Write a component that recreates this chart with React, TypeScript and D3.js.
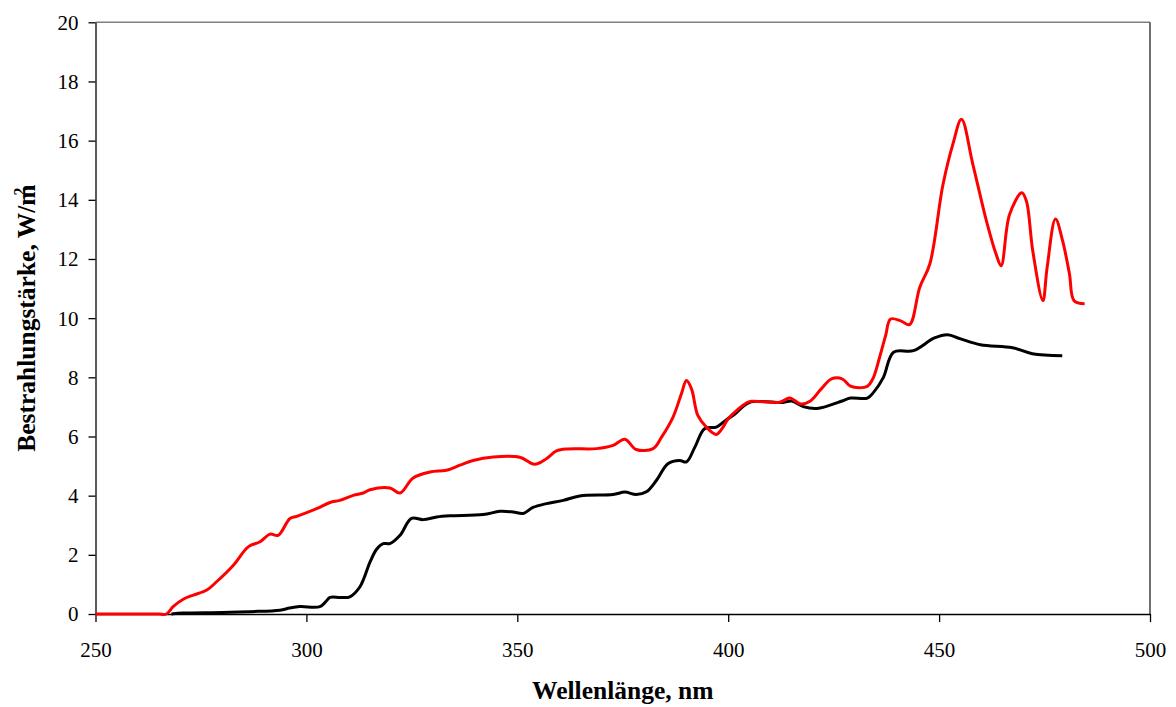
import React, { useRef, useEffect } from 'react'
import * as d3 from 'd3'

// Wellenlänge (nm) / Bestrahlungsstärke (W/m²)
const redWavelengths = [
  250, 256, 262, 265, 266.8, 268.4, 270.8, 273.2, 276.4, 278.7, 282.7, 286.2, 289, 291.4, 293.3, 296.1, 297.7,
  302.4, 305.6, 307.9, 311.1, 313.5, 315.1, 319.8, 322.2, 325.3, 329.3, 333.2, 336.4, 339.5,
  344.3, 350.6, 354.1, 356.9, 359.3, 362, 368.8, 372.7, 375.5, 378.2, 382.2, 384.2, 386.9,
  388.9, 390.1, 391.3, 392.8, 394.8, 397.2, 398.8, 400, 404.3, 405.5, 412.2, 414.6, 417.2,
  419.5, 422, 424.5, 427, 429, 431, 433, 434.3, 435.9, 437.3, 438.5, 441, 443, 445.4, 447.8,
  450.9, 453.3, 455.3, 458, 461.2, 463.5, 464.7, 466.7, 469.6, 470.7, 472.2, 474.6, 475.6,
  477.6, 479.3, 480.9, 482, 484.5
]
const redValues = [
  0, 0, 0, 0, 0, 0.25, 0.5, 0.64, 0.81, 1.09, 1.65, 2.27, 2.44, 2.7, 2.66, 3.23, 3.3,
  3.56, 3.77, 3.84, 4.01, 4.09, 4.2, 4.26, 4.09, 4.6, 4.8, 4.86, 5.03, 5.19,
  5.31, 5.3, 5.06, 5.25, 5.51, 5.58, 5.59, 5.7, 5.91, 5.56, 5.59, 5.98, 6.65,
  7.44, 7.89, 7.61, 6.71, 6.32, 6.07, 6.32, 6.6, 7.13, 7.19, 7.16, 7.3, 7.1,
  7.2, 7.6, 7.95, 7.95, 7.7, 7.65, 7.7, 7.95, 8.68, 9.4, 9.97, 9.9, 9.78, 11.04, 11.83,
  14.5, 15.9, 16.72, 15.2, 13.3, 12.17, 11.77, 13.5, 14.24, 13.96, 12.28, 10.59, 11.7,
  13.35, 12.6, 11.5, 10.59, 10.49
]

const blackWavelengths = [
  268, 270.8, 280, 286.6, 293.7, 296, 298.4, 303.2, 304.6, 305.6, 308, 310.3, 312.7, 315.1, 316.6, 318.2,
  319.8, 322.2, 324.9, 327.7, 330.9, 334, 341.9, 345.9, 349, 351.4, 353.7, 356.9, 360.9,
  364.8, 372.7, 375.5, 378.2, 380.6, 383, 385.7, 388.5, 390.1, 392.1, 394.4, 397.2, 399.6,
  401.5, 405, 413, 415, 418, 421, 424, 427, 429, 433, 434.5, 436.8, 439.2, 443.9, 448.9,
  452, 455.1, 459.8, 467.4, 472.1, 479.2
]
const blackValues = [
  0, 0.03, 0.05, 0.08, 0.13, 0.2, 0.25, 0.25, 0.42, 0.56, 0.56, 0.58, 0.92, 1.76, 2.18, 2.38,
  2.38, 2.66, 3.23, 3.19, 3.28, 3.32, 3.36, 3.47, 3.45, 3.4, 3.6, 3.73, 3.84,
  3.99, 4.04, 4.12, 4.04, 4.13, 4.52, 5.08, 5.19, 5.14, 5.64, 6.26, 6.32, 6.57,
  6.75, 7.15, 7.15, 7.2, 7.0, 6.95, 7.05, 7.2, 7.3, 7.3, 7.5, 8.0, 8.85, 8.9, 9.33,
  9.44, 9.3, 9.1, 9.0, 8.8, 8.73
]

const xTicks = [250, 300, 350, 400, 450, 500]
const yTicks = [0, 2, 4, 6, 8, 10, 12, 14, 16, 18, 20]

const width = 1176
const height = 707
const margin = { left: 95.5, right: 26, top: 22.3, bottom: 93 }

const App: React.FC = () => {
  const svgRef = useRef<SVGSVGElement>(null)

  useEffect(() => {
    document.body.style.margin = '0'
    if (!svgRef.current) return
    const svg = d3.select(svgRef.current)
    svg.selectAll('*').remove()

    const x = d3.scaleLinear().domain([250, 500]).range([margin.left, width - margin.right])
    const y = d3.scaleLinear().domain([0, 20]).range([height - margin.bottom, margin.top])
    const font = '"Liberation Serif", "Times New Roman", serif'

    // Rahmen der Zeichenfläche
    svg.append('line')
      .attr('x1', x(250)).attr('x2', x(500)).attr('y1', y(20)).attr('y2', y(20))
      .attr('stroke', '#808080').attr('stroke-width', 1.5)
    svg.append('line')
      .attr('x1', x(500)).attr('x2', x(500)).attr('y1', y(20)).attr('y2', y(0))
      .attr('stroke', '#404040').attr('stroke-width', 1.5)

    // Achsen
    const xAxis = svg.append('g')
      .attr('transform', `translate(0,${y(0)})`)
      .call(d3.axisBottom(x).tickValues(xTicks).tickSize(8).tickSizeOuter(0).tickPadding(20))
    const yAxis = svg.append('g')
      .attr('transform', `translate(${x(250)},0)`)
      .call(d3.axisLeft(y).tickValues(yTicks).tickSize(7).tickSizeOuter(0).tickPadding(10))

    ;[xAxis, yAxis].forEach(g => {
      g.select('.domain').attr('stroke', '#000').attr('stroke-width', 1.3)
      g.selectAll('.tick line').attr('stroke', '#000').attr('stroke-width', 1.3)
      g.selectAll('.tick text')
        .attr('font-family', font)
        .attr('font-size', 21)
        .attr('fill', '#000')
    })
    yAxis.selectAll('.tick text').attr('dy', '0.33em')

    // Kurven
    const line = d3.line<[number, number]>()
      .x(d => x(d[0]))
      .y(d => y(Math.max(0, d[1])))
      .curve(d3.curveCatmullRom.alpha(0.5))

    const redData = redWavelengths.map((w, i) => [w, redValues[i]] as [number, number])
    const blackData = blackWavelengths.map((w, i) => [w, blackValues[i]] as [number, number])

    svg.append('path')
      .datum(blackData)
      .attr('d', line)
      .attr('fill', 'none')
      .attr('stroke', '#000')
      .attr('stroke-width', 3)
      .attr('stroke-linejoin', 'round')

    svg.append('path')
      .datum(redData)
      .attr('d', line)
      .attr('fill', 'none')
      .attr('stroke', '#ff0000')
      .attr('stroke-width', 3)
      .attr('stroke-linejoin', 'round')

    // Achsentitel
    svg.append('text')
      .attr('x', (x(250) + x(500)) / 2)
      .attr('y', 699)
      .attr('text-anchor', 'middle')
      .attr('font-family', font)
      .attr('font-weight', 'bold')
      .attr('font-size', 25.5)
      .text('Wellenlänge, nm')

    const yt = svg.append('text')
      .attr('transform', `translate(35,${(y(0) + y(20)) / 2}) rotate(-90)`)
      .attr('text-anchor', 'middle')
      .attr('font-family', font)
      .attr('font-weight', 'bold')
      .attr('font-size', 25.5)
    yt.append('tspan').text('Bestrahlungstärke, W/m')
    yt.append('tspan').attr('dx', -11).attr('dy', -10).attr('font-size', 16).text('2')
  }, [])

  return <svg ref={svgRef} width={width} height={height} style={{ display: 'block', background: '#fff' }} />
}

export default App
